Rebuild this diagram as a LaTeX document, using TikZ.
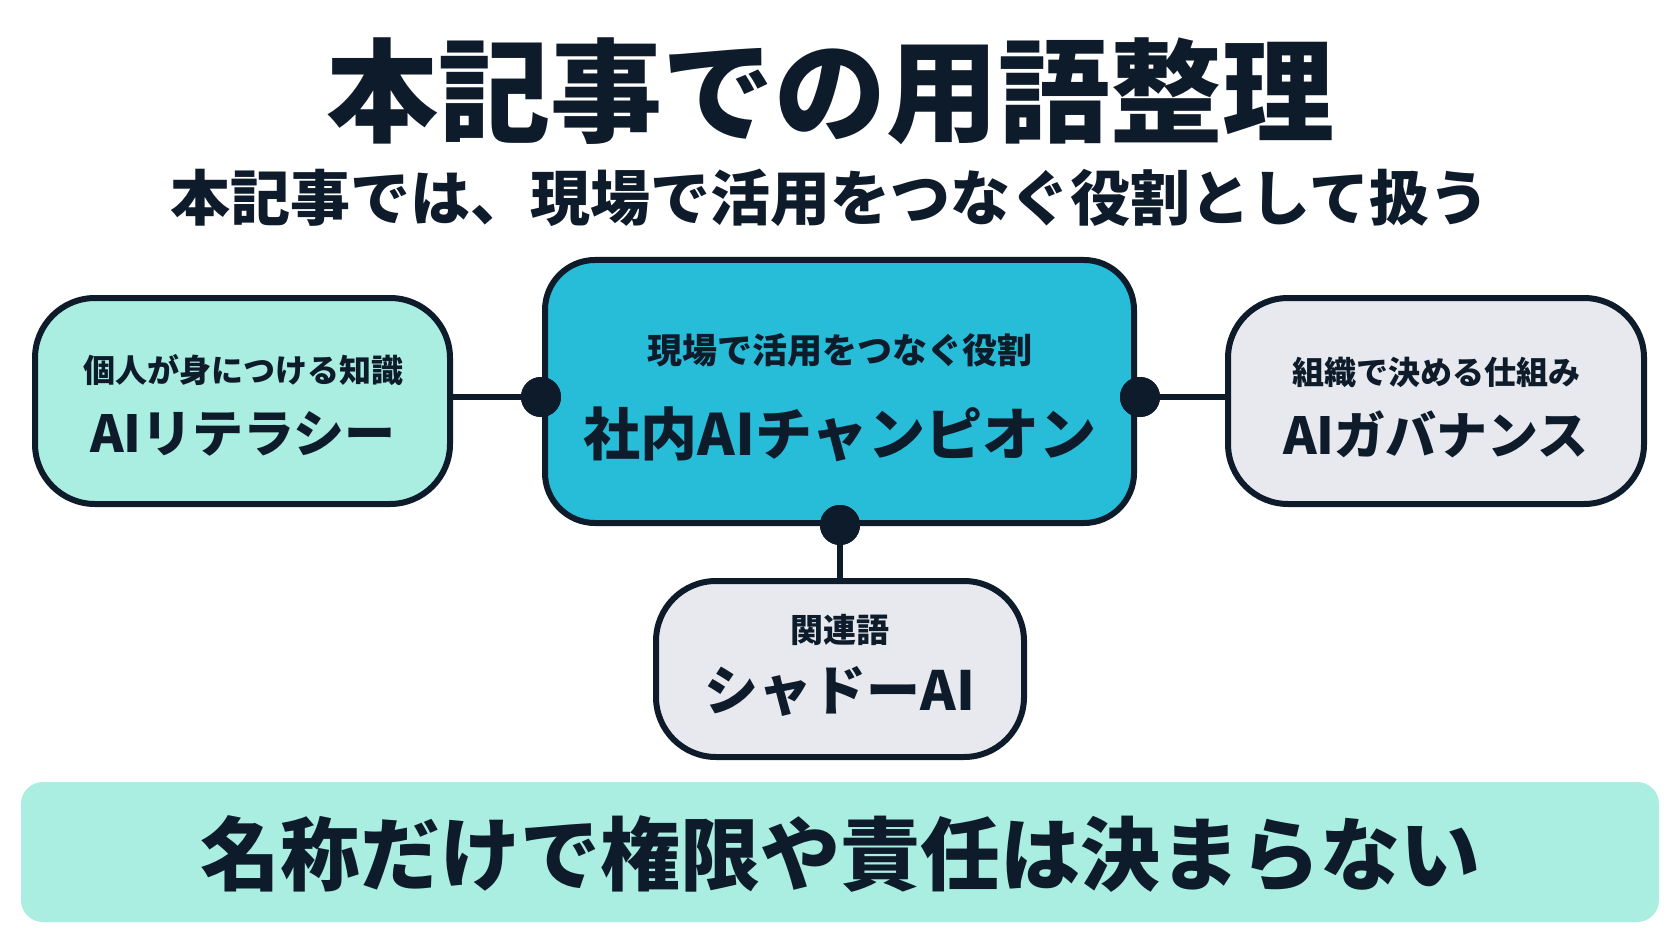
\documentclass[tikz,border=0pt]{standalone}
\usepackage{fontspec}
\setmainfont{Noto Sans CJK JP}[BoldFont={* Black}]
\usetikzlibrary{positioning}
\definecolor{ink}{HTML}{0D1B2A}
\definecolor{mint}{HTML}{AAEDE1}
\definecolor{cyanf}{HTML}{27BCD8}
\definecolor{greyf}{HTML}{E8E9EE}
\newcommand{\fs}[1]{\fontsize{#1}{#1}\selectfont\bfseries}
\begin{document}
\begin{tikzpicture}[x=1pt,y=-1pt,
  box/.style={draw=ink,line width=6pt,rounded corners=60pt},
  dot/.style={circle,fill=ink,minimum size=40pt,inner sep=0pt},
  con/.style={draw=ink,line width=5.5pt},
  txt/.style={text=ink,inner sep=0pt,anchor=center}]
\useasboundingbox (0,0) rectangle (1672,941);
\fill[white] (0,0) rectangle (1672,941);
\node[txt] (title) at (830,91) {\fs{112}本記事での用語整理};
\node[txt] (sub) at (830,198) {\fs{60}本記事では、現場で活用をつなぐ役割として扱う};
% boxes
\draw[box,fill=mint] (35,298) rectangle (450,504);
\coordinate (lbR) at (450,397);
\draw[box,fill=cyanf,rounded corners=50pt] (545,260) rectangle (1134,523);
\draw[box,fill=greyf] (1228,298) rectangle (1644,504);
\coordinate (rbL) at (1228,397);
\draw[box,fill=greyf] (656,581) rectangle (1024,757);
\coordinate (bbT) at (840,581);
% connectors
\node[dot] (dl) at (541,397) {};
\node[dot] (dr) at (1140,397) {};
\node[dot] (db) at (840,525) {};
\draw[con] (lbR) -- (dl.center);
\draw[con] (dr.center) -- (rbL);
\draw[con] (db.center) -- (bbT);
\node[dot] at (541,397) {};
\node[dot] at (1140,397) {};
\node[dot] at (840,525) {};
% texts
\node[txt] (l1) at (243,370) {\fs{32}個人が身につける知識};
\node[txt] (l2) at (243,434) {\fs{51}AIリテラシー};
\node[txt] (c1) at (840,350) {\fs{35}現場で活用をつなぐ役割};
\node[txt] (c2) at (840,434) {\fs{57}社内AIチャンピオン};
\node[txt] (r1) at (1436,372) {\fs{32}組織で決める仕組み};
\node[txt] (r2) at (1436,434) {\fs{51}AIガバナンス};
\node[txt] (b1) at (840,630) {\fs{33}関連語};
\node[txt] (b2) at (840,691) {\fs{54}シャドーAI};
% banner
\fill[mint,rounded corners=22pt] (21,782) rectangle (1659,922);
\node[txt] (ban) at (840,854) {\fs{80}名称だけで権限や責任は決まらない};
\end{tikzpicture}
\end{document}
